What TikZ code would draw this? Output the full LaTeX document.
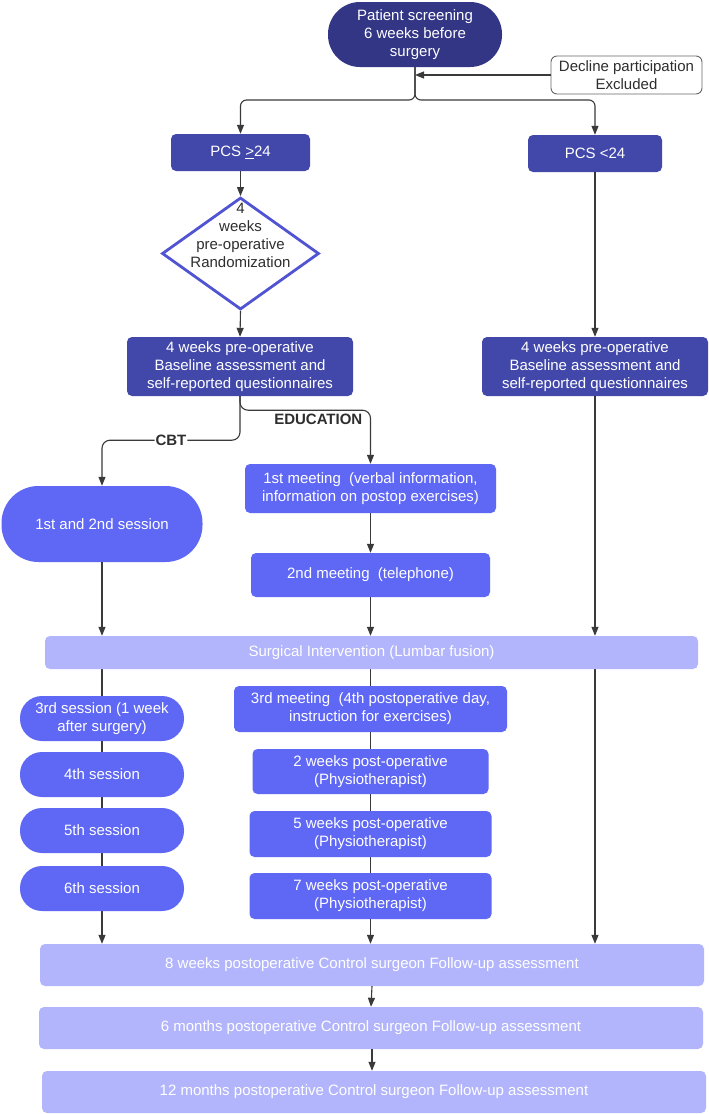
\documentclass[tikz,border=0pt]{standalone}
\usepackage{fontspec}
\setmainfont{Liberation Sans}
\usetikzlibrary{shapes.geometric,arrows.meta,backgrounds}
\definecolor{navyD}{HTML}{333685}
\definecolor{navyM}{HTML}{4248AA}
\definecolor{blueB}{HTML}{5F67F5}
\definecolor{lightB}{HTML}{B2B5FC}
\definecolor{diaB}{HTML}{5054D2}
\definecolor{lineC}{HTML}{3A3A3A}
\definecolor{txtC}{HTML}{2E2E2E}
\newcommand\fsz{\fontsize{15}{17.8}\selectfont}
\begin{document}
\begin{tikzpicture}[x=1pt,y=-1pt,
  box/.style={rectangle, rounded corners=5pt, inner sep=0pt, align=center, text=white, font=\fsz},
  bxD/.style={box, fill=navyD},
  bxM/.style={box, fill=navyM},
  bxB/.style={box, fill=blueB},
  bxL/.style={box, fill=lightB},
  cn/.style={draw=lineC, line width=1.1pt},
  arr/.style={cn, -{Triangle[length=9pt,width=7pt]}},
  lbl/.style={font=\fsz\bfseries, text=txtC}
]
\useasboundingbox (0,0) rectangle (709,1114);

% top
\node[bxD, minimum width=174pt, minimum height=65pt, rounded corners=32pt] (ps) at (415,34.5) {Patient screening\\6 weeks before\\surgery};
\node[box, fill=white, draw=gray!80!black, line width=0.9pt, text=txtC, minimum width=151pt, minimum height=38pt, rounded corners=6pt] (dec) at (626.5,75) {Decline participation\\Excluded};
\coordinate (br) at (415,100);

\node[bxM, minimum width=139pt, minimum height=37pt] (pcs1) at (240.5,152.5) {PCS \underline{>}24};
\node[bxM, minimum width=134pt, minimum height=37pt] (pcs2) at (595,153.5) {PCS <24};

\node[diamond, draw=diaB, line width=2.8pt, fill=white, minimum width=157pt, minimum height=112pt, inner sep=0pt] (dia) at (240.5,253.5) {};
\node[align=center, font=\fsz, text=txtC, inner sep=0pt] (diat) at ([yshift=18pt]dia.center) {4\\weeks\\pre-operative\\Randomization};

\node[bxM, minimum width=226pt, minimum height=59pt] (blL) at (240,366.5) {4 weeks pre-operative\\Baseline assessment and\\self-reported questionnaires};
\node[bxM, minimum width=226pt, minimum height=59pt] (blR) at (595,366.5) {4 weeks pre-operative\\Baseline assessment and\\self-reported questionnaires};

% before surgery
\node[bxB, minimum width=201pt, minimum height=76pt, rounded corners=37pt] (s12) at (102,524) {1st and 2nd session};
\node[bxB, minimum width=251pt, minimum height=49pt] (m1) at (370.5,488.5) {1st meeting\ \ (verbal information,\\information on postop exercises)};
\node[bxB, minimum width=239pt, minimum height=44pt] (m2) at (370.5,575) {2nd meeting\ \ (telephone)};

\node[bxL, minimum width=653pt, minimum height=33pt] (surg) at (371.5,652.5) {Surgical Intervention (Lumbar fusion)};

% after surgery
\node[bxB, minimum width=164pt, minimum height=45pt, rounded corners=22pt] (s3) at (102,718.5) {3rd session (1 week\\after surgery)};
\node[bxB, minimum width=164pt, minimum height=45pt, rounded corners=22pt] (s4) at (102,774.5) {4th session};
\node[bxB, minimum width=164pt, minimum height=45pt, rounded corners=22pt] (s5) at (102,830.5) {5th session};
\node[bxB, minimum width=164pt, minimum height=45pt, rounded corners=22pt] (s6) at (102,888.5) {6th session};

\node[bxB, minimum width=273pt, minimum height=46pt] (m3) at (370.5,709) {3rd meeting\ \ (4th postoperative day,\\instruction for exercises)};
\node[bxB, minimum width=236pt, minimum height=45pt] (w2) at (370.5,771.5) {2 weeks post-operative\\(Physiotherapist)};
\node[bxB, minimum width=242pt, minimum height=46pt] (w5) at (370.5,834) {5 weeks post-operative\\(Physiotherapist)};
\node[bxB, minimum width=242pt, minimum height=46pt] (w7) at (370.5,896) {7 weeks post-operative\\(Physiotherapist)};

\node[bxL, minimum width=664pt, minimum height=42pt] (f8) at (372,965) {8 weeks postoperative Control surgeon Follow-up assessment};
\node[bxL, minimum width=664pt, minimum height=42pt] (f6) at (371,1028) {6 months postoperative Control surgeon Follow-up assessment};
\node[bxL, minimum width=664pt, minimum height=42pt] (f12) at (374,1092) {12 months postoperative Control surgeon Follow-up assessment};

% connectors
\draw[arr, rounded corners=6pt] (ps.south) -- (br) -| (pcs1.north);
\draw[arr, rounded corners=6pt] (ps.south) -- (br) -| (pcs2.north);
\draw[arr] (dec.west) -- (dec.west -| ps.south);
\draw[arr] (pcs1.south) -- (dia.north);
\draw[arr] (dia.south) -- (blL.north);
\draw[arr] (pcs2.south) -- (blR.north);
\draw[arr, rounded corners=8pt] (blL.south) -- ++(0,44) -| (s12.north) node[pos=0.25, lbl, fill=white, inner sep=1pt] {CBT};
\draw[arr, rounded corners=8pt] (blL.south) -- ++(0,14) -| (m1.north) node[pos=0.3, lbl, below] {EDUCATION};
\draw[arr] (m1.south) -- (m2.north);
\draw[arr] (s12.south) -- (s12.south |- surg.north);
\draw[arr] (m2.south) -- (m2.south |- surg.north);
\draw[arr] (blR.south) -- (blR.south |- surg.north);
\draw[arr] (f8.south) -- (f6.north);
\draw[arr] (f6.south -| f8.south) -- (f8.south |- f12.north);

\begin{scope}[on background layer]
\fill[white] (0,0) rectangle (709,1114);
\draw[arr] (s3.north |- surg.south) -- (s6.south |- f8.north);
\draw[arr] (m3.north |- surg.south) -- (w7.south |- f8.north);
\draw[arr] (blR.south |- surg.south) -- (blR.south |- f8.north);
\end{scope}
\end{tikzpicture}
\end{document}
